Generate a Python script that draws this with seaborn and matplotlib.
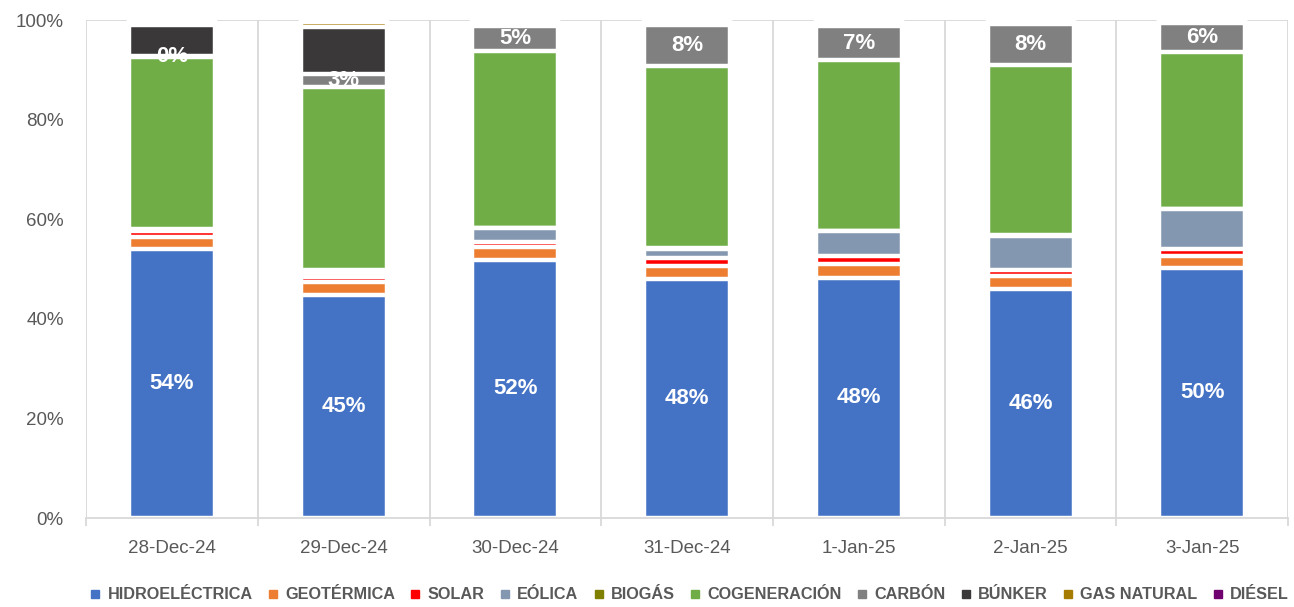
"""
Daily electricity generation mix (share by source), stacked 100% bars.
"""

import numpy as np
import pandas as pd
import matplotlib
matplotlib.use("Agg")
import matplotlib.pyplot as plt
from matplotlib.lines import Line2D
from matplotlib.ticker import FixedLocator, PercentFormatter
import seaborn as sns

# --- data (share of daily generation, %) ---
dates = ["28-Dec-24", "29-Dec-24", "30-Dec-24", "31-Dec-24", "1-Jan-25", "2-Jan-25", "3-Jan-25"]

sources = ["HIDROELÉCTRICA", "GEOTÉRMICA", "SOLAR", "EÓLICA", "BIOGÁS",
           "COGENERACIÓN", "CARBÓN", "BÚNKER", "GAS NATURAL", "DIÉSEL"]

hidro = [54.0, 44.8, 51.9, 47.9, 48.2, 46.0, 50.3]
geotermica = [2.4, 2.5, 2.5, 2.8, 2.9, 2.5, 2.4]
solar = [1.2, 1.0, 1.0, 1.5, 1.6, 1.3, 1.4]
eolica = [0.3, 0.8, 2.8, 1.9, 4.9, 6.9, 7.9]
biogas = [0.1, 0.8, 0.1, 0.1, 0.1, 0.1, 0.1]
cogeneracion = [34.5, 36.6, 35.4, 36.5, 34.2, 34.2, 31.5]
carbon = [0.2, 2.7, 5.2, 8.4, 6.9, 8.3, 5.9]
bunker = [6.3, 9.5, 0.3, 0.2, 0.3, 0.2, 0.2]
gas_natural = [0.8, 1.0, 0.5, 0.4, 0.6, 0.3, 0.2]
diesel = [0.2, 0.3, 0.3, 0.3, 0.3, 0.2, 0.1]

colors = ["#4472C4", "#ED7D31", "#FF0000", "#8497B0", "#808000",
          "#70AD47", "#808080", "#3A3838", "#A67C00", "#700070"]

# sources with value labels on the bars
labelled = ["HIDROELÉCTRICA", "CARBÓN"]


def build_table():
    df = pd.DataFrame({
        "fecha": dates,
        "HIDROELÉCTRICA": hidro,
        "GEOTÉRMICA": geotermica,
        "SOLAR": solar,
        "EÓLICA": eolica,
        "BIOGÁS": biogas,
        "COGENERACIÓN": cogeneracion,
        "CARBÓN": carbon,
        "BÚNKER": bunker,
        "GAS NATURAL": gas_natural,
        "DIÉSEL": diesel,
    })
    return df


def plot_mix(df, out_path="out.png"):
    sns.set_theme(style="white")
    plt.rcParams["font.family"] = ["Liberation Sans", "DejaVu Sans"]
    grey_txt = "#595959"
    grid_col = "#D9D9D9"

    fig = plt.figure(figsize=(12.94, 6.07), dpi=100)
    ax = fig.add_axes([0.0665, 0.1466, 0.929, 0.8204])

    cum = df[sources].cumsum(axis=1)

    # draw cumulative totals from the top layer down so each covers the one below
    for src, col in reversed(list(zip(sources, colors))):
        sns.barplot(x=df["fecha"], y=cum[src], color=col, width=0.5,
                    linewidth=3.2, edgecolor="white", saturation=1,
                    ax=ax, zorder=3)

    # value labels
    for src in labelled:
        base = cum[src] - df[src]
        for i, (b, v) in enumerate(zip(base, df[src])):
            ax.text(i, b + v / 2, f"{v:.0f}%", ha="center", va="center",
                    color="white", fontsize=16, fontweight="bold", zorder=5)

    ax.set_xlim(-0.5, len(dates) - 0.5)
    ax.set_ylim(0, 100)
    ax.set_xlabel("")
    ax.set_ylabel("")

    ax.yaxis.set_major_locator(FixedLocator([0, 20, 40, 60, 80, 100]))
    ax.yaxis.set_major_formatter(PercentFormatter(decimals=0))
    ax.tick_params(axis="y", length=0, pad=16, labelsize=13.5, labelcolor=grey_txt)
    ax.tick_params(axis="x", which="major", length=0, pad=16, labelsize=13.5,
                   labelcolor=grey_txt)
    ax.xaxis.set_minor_locator(FixedLocator(np.arange(-0.5, len(dates), 1.0)))
    ax.tick_params(axis="x", which="minor", length=6, width=1.3, color=grid_col,
                   direction="out", bottom=True)

    # vertical separators between days, plus top line at 100%
    ax.grid(False)
    for xb in np.arange(-0.5, len(dates), 1.0):
        ax.axvline(xb, color=grid_col, linewidth=1.3, zorder=1)
    ax.axhline(100, color=grid_col, linewidth=1.3, zorder=1)

    for s in ["top", "right", "left"]:
        ax.spines[s].set_visible(False)
    ax.spines["bottom"].set_color(grid_col)
    ax.spines["bottom"].set_linewidth(1.3)
    ax.spines["bottom"].set_zorder(4)

    handles = [Line2D([0], [0], marker="s", linestyle="none", markersize=6,
                      markerfacecolor=c, markeredgecolor=c) for c in colors]
    leg = fig.legend(handles, sources, loc="center", bbox_to_anchor=(0.532, 0.02),
                     ncol=len(sources), frameon=False, handletextpad=0.3,
                     columnspacing=0.8, handlelength=0.9,
                     prop={"weight": "bold", "size": 11.7})
    for t in leg.get_texts():
        t.set_color(grey_txt)

    fig.savefig(out_path, dpi=100)
    plt.close(fig)


def main():
    df = build_table()
    plot_mix(df)


if __name__ == "__main__":
    main()
